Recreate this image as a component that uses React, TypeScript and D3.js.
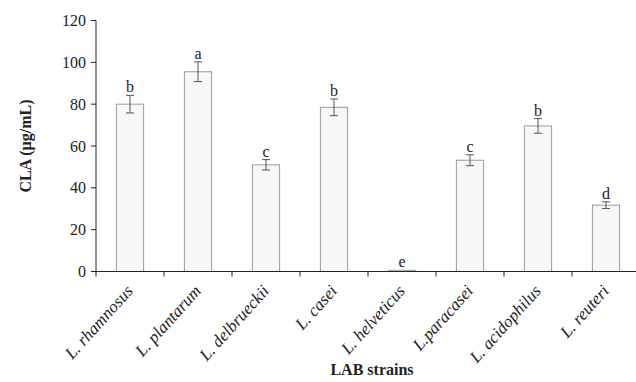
import React from "react";
import * as d3 from "d3";

// strains, CLA means, error (±) and significance letters
const strains = [
  "L. rhamnosus",
  "L. plantarum",
  "L. delbrueckii",
  "L. casei",
  "L. helveticus",
  "L.paracasei",
  "L. acidophilus",
  "L. reuteri",
];
const claValues = [80, 95.5, 51, 78.5, 0.6, 53.2, 69.6, 31.7];
const claErrors = [4.2, 4.7, 2.5, 4, 0, 2.6, 3.5, 1.6];
const letters = ["b", "a", "c", "b", "e", "c", "b", "d"];
const yTicks = [0, 20, 40, 60, 80, 100, 120];

const W = 636;
const H = 382;
const margin = { top: 20.5, right: 0, bottom: 110.5, left: 96 };
const font = "Liberation Serif, DejaVu Serif, serif";

const App = () => {
  const bandWidth = 68;
  const x = d3
    .scaleBand()
    .domain(strains)
    .range([margin.left, margin.left + bandWidth * strains.length])
    .paddingInner(0.6)
    .paddingOuter(0.3);
  const y = d3
    .scaleLinear()
    .domain([0, 120])
    .range([H - margin.bottom, margin.top]);

  const y0 = y(0);
  const step = x.step();

  return (
    <svg
      width={W}
      height={H}
      style={{ position: "absolute", left: 0, top: 0, background: "#fff", fontFamily: font }}
    >
      {/* bars */}
      {strains.map((s, i) => (
        <rect
          key={s}
          x={x(s)}
          y={y(claValues[i])}
          width={x.bandwidth()}
          height={y0 - y(claValues[i])}
          fill="#f7f7f7"
          stroke="#9a9a9a"
          strokeWidth={1}
        />
      ))}

      {/* error bars */}
      {strains.map((s, i) => {
        if (!claErrors[i]) return null;
        const cx = (x(s) as number) + x.bandwidth() / 2;
        const top = y(claValues[i] + claErrors[i]);
        const bot = y(claValues[i] - claErrors[i]);
        return (
          <g key={s + "-err"} stroke="#555" strokeWidth={1}>
            <line x1={cx} x2={cx} y1={top} y2={bot} />
            <line x1={cx - 4} x2={cx + 4} y1={top} y2={top} />
            <line x1={cx - 4} x2={cx + 4} y1={bot} y2={bot} />
          </g>
        );
      })}

      {/* letters */}
      {strains.map((s, i) => {
        const cx = (x(s) as number) + x.bandwidth() / 2;
        const top = y(claValues[i] + claErrors[i]);
        return (
          <text
            key={s + "-l"}
            x={cx}
            y={top - 3}
            textAnchor="middle"
            fontSize={16}
            fill="#222"
          >
            {letters[i]}
          </text>
        );
      })}

      {/* y axis */}
      <line x1={margin.left} x2={margin.left} y1={margin.top} y2={y0} stroke="#222" />
      {yTicks.map((t) => (
        <g key={t}>
          <line x1={margin.left - 5} x2={margin.left} y1={y(t)} y2={y(t)} stroke="#222" />
          <text
            x={margin.left - 10}
            y={y(t)}
            dy="0.35em"
            textAnchor="end"
            fontSize={16}
            fill="#222"
          >
            {t}
          </text>
        </g>
      ))}

      {/* x axis */}
      <line x1={margin.left} x2={W} y1={y0} y2={y0} stroke="#222" />
      {d3.range(strains.length + 1).map((k) => (
        <line
          key={k}
          x1={margin.left + k * step}
          x2={margin.left + k * step}
          y1={y0}
          y2={y0 + 5}
          stroke="#222"
        />
      ))}
      {strains.map((s) => {
        const cx = (x(s) as number) + x.bandwidth() / 2;
        return (
          <text
            key={s + "-t"}
            transform={`translate(${cx + 4},${y0 + 20}) rotate(-48)`}
            textAnchor="end"
            fontSize={17}
            fontStyle="italic"
            fill="#222"
          >
            {s}
          </text>
        );
      })}

      {/* axis titles */}
      <text
        transform={`translate(31,${(margin.top + y0) / 2}) rotate(-90)`}
        textAnchor="middle"
        fontSize={16}
        fontWeight="bold"
        fill="#222"
      >
        CLA (µg/mL)
      </text>
      <text x={372} y={375} textAnchor="middle" fontSize={16} fontWeight="bold" fill="#222">
        LAB strains
      </text>
    </svg>
  );
};

export default App;
